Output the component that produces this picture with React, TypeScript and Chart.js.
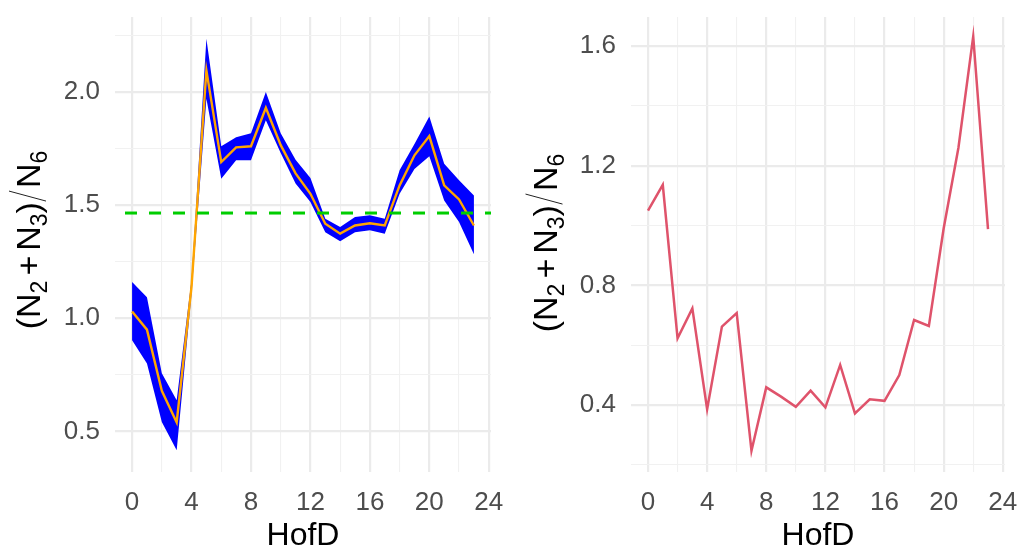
import React, { useEffect, useRef } from 'react';
import { Chart, registerables } from 'chart.js';

Chart.register(...registerables);

const FONT = '"Liberation Sans", Arial, sans-serif';

const HOURS = [0, 1, 2, 3, 4, 5, 6, 7, 8, 9, 10, 11, 12, 13, 14, 15, 16, 17, 18, 19, 20, 21, 22, 23];

const LEFT_MEAN = [1.03, 0.95, 0.68, 0.54, 1.14, 2.095, 1.69, 1.755, 1.76, 1.93, 1.765, 1.64, 1.55, 1.418, 1.374, 1.41, 1.42, 1.41, 1.587, 1.72, 1.805, 1.587, 1.525, 1.41];
const LEFT_UPPER = [1.16, 1.093, 0.757, 0.638, 1.17, 2.235, 1.76, 1.8, 1.817, 2.0, 1.817, 1.7, 1.62, 1.44, 1.403, 1.447, 1.455, 1.44, 1.654, 1.77, 1.892, 1.683, 1.61, 1.543];
const LEFT_LOWER = [0.903, 0.8, 0.542, 0.417, 1.11, 1.97, 1.617, 1.698, 1.698, 1.875, 1.73, 1.596, 1.514, 1.38, 1.34, 1.38, 1.389, 1.374, 1.55, 1.66, 1.716, 1.52, 1.425, 1.283];
const LEFT_REFERENCE = 1.465;

const RIGHT_VALUES = [1.05, 1.136, 0.623, 0.723, 0.386, 0.662, 0.707, 0.247, 0.459, 0.428, 0.394, 0.448, 0.392, 0.534, 0.372, 0.419, 0.414, 0.5, 0.684, 0.664, 0.99, 1.26, 1.632, 0.988];

const X_GRID = [0, 2, 4, 6, 8, 10, 12, 14, 16, 18, 20, 22, 24];
const X_LABELS = [0, 4, 8, 12, 16, 20, 24];
const X_MIN = -1.15;
const X_MAX = 24.15;

const LEFT_Y_GRID = [0.5, 0.75, 1.0, 1.25, 1.5, 1.75, 2.0, 2.25];
const LEFT_Y_LABELS = [0.5, 1.0, 1.5, 2.0];
const LEFT_Y_MIN = 0.321;
const LEFT_Y_MAX = 2.331;

const RIGHT_Y_GRID = [0.2, 0.4, 0.6, 0.8, 1.0, 1.2, 1.4, 1.6];
const RIGHT_Y_LABELS = [0.4, 0.8, 1.2, 1.6];
const RIGHT_Y_MIN = 0.176;
const RIGHT_Y_MAX = 1.697;

const X_TITLE = 'HofD';

const near = (list: number[], v: number) => list.some((t) => Math.abs(t - v) < 1e-6);

function drawRatioTitle(ctx: CanvasRenderingContext2D, baseX: number, centerY: number) {
  const F = 34;
  const S = 23;
  const big = `${F}px ${FONT}`;
  const small = `${S}px ${FONT}`;
  type Piece = { t?: string; f?: string; dy?: number; padL?: number; padR?: number; slash?: boolean; w?: number };
  const pieces: Piece[] = [
    { t: '(', f: big },
    { t: 'N', f: big },
    { t: '2', f: small, dy: 7 },
    { t: '+', f: big, padL: 5, padR: 5 },
    { t: 'N', f: big },
    { t: '3', f: small, dy: 7 },
    { t: ')', f: big },
    { slash: true, w: 14 },
    { t: 'N', f: big },
    { t: '6', f: small, dy: 7 },
  ];
  ctx.save();
  const widths = pieces.map((p) => {
    if (p.slash) return p.w as number;
    ctx.font = p.f as string;
    return ctx.measureText(p.t as string).width + (p.padL || 0) + (p.padR || 0);
  });
  const total = widths.reduce((a, b) => a + b, 0);
  ctx.translate(baseX, centerY);
  ctx.rotate(-Math.PI / 2);
  let x = -total / 2;
  ctx.fillStyle = '#000000';
  ctx.textBaseline = 'alphabetic';
  ctx.textAlign = 'left';
  pieces.forEach((p, i) => {
    if (p.slash) {
      ctx.strokeStyle = '#222222';
      ctx.lineWidth = 1;
      ctx.beginPath();
      ctx.moveTo(x + 1, 6);
      ctx.lineTo(x + 11, -31);
      ctx.stroke();
    } else {
      ctx.font = p.f as string;
      ctx.fillText(p.t as string, x + (p.padL || 0), p.dy || 0);
    }
    x += widths[i];
  });
  ctx.restore();
}

function makeTitlesPlugin(baseX: number, centerY: number) {
  return {
    id: 'axisTitles',
    afterDraw(chart: any) {
      const ctx = chart.ctx as CanvasRenderingContext2D;
      const area = chart.chartArea;
      drawRatioTitle(ctx, baseX, centerY);
      ctx.save();
      ctx.font = `32px ${FONT}`;
      ctx.fillStyle = '#000000';
      ctx.textAlign = 'center';
      ctx.textBaseline = 'alphabetic';
      ctx.fillText(X_TITLE, (area.left + area.right) / 2, 545);
      ctx.restore();
    },
  };
}

function zeroPadding(s: any) {
  s.paddingLeft = 0;
  s.paddingRight = 0;
  s.paddingTop = 0;
  s.paddingBottom = 0;
}

function xScale() {
  return {
    type: 'linear',
    min: X_MIN,
    max: X_MAX,
    afterBuildTicks: (s: any) => {
      s.ticks = X_GRID.map((v) => ({ value: v }));
    },
    afterFit: (s: any) => {
      s.height = 77;
      zeroPadding(s);
    },
    ticks: {
      autoSkip: false,
      maxRotation: 0,
      minRotation: 0,
      padding: 15,
      color: '#4D4D4D',
      font: { size: 26, family: FONT },
      callback: (v: number) => (near(X_LABELS, v) ? String(v) : ''),
    },
    grid: {
      drawTicks: false,
      color: (c: any) => (c.tick && near(X_LABELS, c.tick.value) ? '#EBEBEB' : '#F1F1F1'),
      lineWidth: (c: any) => (c.tick && near(X_LABELS, c.tick.value) ? 2.2 : 1.1),
    },
    border: { display: false },
  };
}

function yScale(min: number, max: number, grid: number[], labels: number[], width: number) {
  return {
    type: 'linear',
    min,
    max,
    afterBuildTicks: (s: any) => {
      s.ticks = grid.map((v) => ({ value: v }));
    },
    afterFit: (s: any) => {
      s.width = width;
      zeroPadding(s);
    },
    ticks: {
      autoSkip: false,
      padding: 15,
      color: '#4D4D4D',
      font: { size: 26, family: FONT },
      callback: (v: number) => (near(labels, v) ? v.toFixed(1) : ''),
    },
    grid: {
      drawTicks: false,
      color: (c: any) => (c.tick && near(labels, c.tick.value) ? '#EBEBEB' : '#F1F1F1'),
      lineWidth: (c: any) => (c.tick && near(labels, c.tick.value) ? 2.2 : 1.1),
    },
    border: { display: false },
  };
}

export default function App() {
  const leftRef = useRef<HTMLCanvasElement | null>(null);
  const rightRef = useRef<HTMLCanvasElement | null>(null);

  useEffect(() => {
    const pts = (vals: number[]) => HOURS.map((h, i) => ({ x: h, y: vals[i] }));
    const left = new Chart(leftRef.current as HTMLCanvasElement, {
      type: 'line',
      data: {
        datasets: [
          {
            data: pts(LEFT_UPPER),
            borderWidth: 0,
            borderColor: 'rgba(0,0,255,0)',
            backgroundColor: '#0000FF',
            pointRadius: 0,
            fill: '+1',
            order: 2,
          },
          {
            data: pts(LEFT_LOWER),
            borderWidth: 0,
            borderColor: 'rgba(0,0,255,0)',
            pointRadius: 0,
            fill: false,
            order: 3,
          },
          {
            data: pts(LEFT_MEAN),
            borderColor: '#FFA500',
            borderWidth: 2.4,
            pointRadius: 0,
            fill: false,
            order: 1,
          },
          {
            data: [
              { x: X_MIN, y: LEFT_REFERENCE },
              { x: X_MAX, y: LEFT_REFERENCE },
            ],
            borderColor: '#00CD00',
            borderWidth: 3,
            borderDash: [12, 12],
            borderDashOffset: 14,
            pointRadius: 0,
            fill: false,
            order: 0,
          },
        ],
      },
      options: {
        responsive: false,
        animation: false,
        events: [],
        layout: { padding: { top: 17, right: 19, left: 0, bottom: 0 } },
        plugins: { legend: { display: false }, tooltip: { enabled: false } },
        elements: { line: { tension: 0 } },
        scales: {
          x: xScale(),
          y: yScale(LEFT_Y_MIN, LEFT_Y_MAX, LEFT_Y_GRID, LEFT_Y_LABELS, 115),
        },
      } as any,
      plugins: [makeTitlesPlugin(40, 240)],
    } as any);

    const right = new Chart(rightRef.current as HTMLCanvasElement, {
      type: 'line',
      data: {
        datasets: [
          {
            data: pts(RIGHT_VALUES),
            borderColor: '#DF536B',
            borderWidth: 2.5,
            pointRadius: 0,
            fill: false,
          },
        ],
      },
      options: {
        responsive: false,
        animation: false,
        events: [],
        layout: { padding: { top: 17, right: 15, left: 0, bottom: 0 } },
        plugins: { legend: { display: false }, tooltip: { enabled: false } },
        elements: { line: { tension: 0 } },
        scales: {
          x: xScale(),
          y: yScale(RIGHT_Y_MIN, RIGHT_Y_MAX, RIGHT_Y_GRID, RIGHT_Y_LABELS, 121),
        },
      } as any,
      plugins: [makeTitlesPlugin(46.5, 243)],
    } as any);

    return () => {
      left.destroy();
      right.destroy();
    };
  }, []);

  return (
    <div style={{ position: 'absolute', left: 0, top: 0, width: 1020, height: 549, background: '#FFFFFF' }}>
      <canvas ref={leftRef} width={510} height={549} style={{ position: 'absolute', left: 0, top: 0, width: 510, height: 549 }} />
      <canvas ref={rightRef} width={510} height={549} style={{ position: 'absolute', left: 510, top: 0, width: 510, height: 549 }} />
    </div>
  );
}
